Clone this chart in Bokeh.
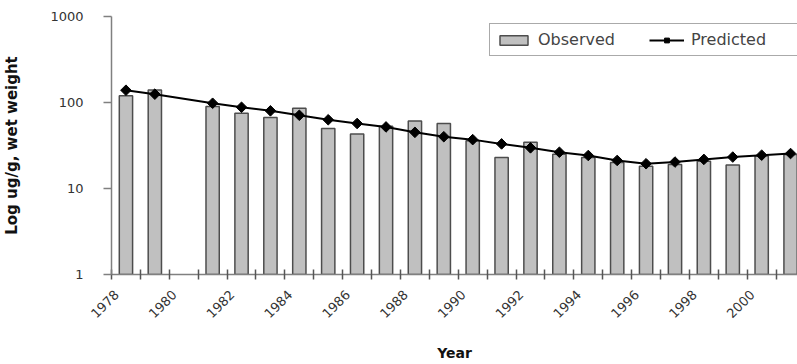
import math
from bokeh.plotting import figure
from bokeh.models import Range1d, FixedTicker, NumeralTickFormatter, Legend, LegendItem, ColumnDataSource
from bokeh.embed import file_html
from bokeh.resources import INLINE

# ---- data ----
years = list(range(1978, 2002))
observed = [120, 140, None, 90, 75, 67, 86, 50, 43, 53, 61, 57,
            36, 23, 34.5, 25, 23, 20, 18.2, 19, 20.8, 18.7, 23.8, 24.9]
predicted = [139, 125, None, 98, 88, 80, 71, 63, 57, 52, 45, 40,
             37, 33, 29.7, 26.4, 24.2, 21.2, 19.4, 20.3, 21.8, 23.2, 24.4, 25.5]
x_tick_years = list(range(1978, 2001, 2))
y_ticks = [1, 10, 100, 1000]

obs_src = ColumnDataSource(dict(
    x=[y for y, v in zip(years, observed) if v is not None],
    top=[v for v in observed if v is not None]))
pred_src = ColumnDataSource(dict(
    x=[y for y, v in zip(years, predicted) if v is not None],
    y=[v for v in predicted if v is not None]))

FONT = "DejaVu Sans"
GRAY = "#808080"

p = figure(width=797, height=364,
           x_range=Range1d(1977.5, 2001.24), y_range=Range1d(1, 1000),
           y_axis_type="log", output_backend="svg", toolbar_location=None,
           min_border_left=108, min_border_right=0, min_border_top=16, min_border_bottom=88)
p.outline_line_color = None
p.background_fill_color = "white"
p.border_fill_color = "white"

p.xgrid.visible = False
p.ygrid.ticker = FixedTicker(ticks=[y_ticks[-1]])
p.ygrid.grid_line_color = GRAY
p.ygrid.grid_line_width = 1.5

bars = p.vbar(x="x", top="top", bottom=1, width=0.46, source=obs_src,
              fill_color="#c0c0c0", line_color="#4d4d4d", line_width=1.5)
line = p.line(x="x", y="y", source=pred_src, line_color="black", line_width=2)
pts = p.scatter(x="x", y="y", source=pred_src, marker="square", angle=math.pi / 4,
                size=7.5, fill_color="black", line_color="black")

# y axis
yax = p.yaxis[0]
yax.ticker = FixedTicker(ticks=y_ticks, minor_ticks=[])
yax.formatter = NumeralTickFormatter(format="0")
yax.axis_line_color = GRAY
yax.axis_line_width = 1.5
yax.major_tick_line_color = GRAY
yax.major_tick_line_width = 1.5
yax.major_tick_in = 0
yax.major_tick_out = 8
yax.minor_tick_line_color = None
yax.major_label_standoff = 20
yax.major_label_text_font = FONT
yax.major_label_text_font_size = "13px"
yax.major_label_text_color = "#333333"
yax.axis_label = "Log ug/g, wet weight"
yax.axis_label_text_font = FONT
yax.axis_label_text_font_style = "bold"
yax.axis_label_text_font_size = "15px"
yax.axis_label_text_color = "#111111"
yax.axis_label_standoff = 26

# x axis: labels sit a little left of each category centre, ticks between categories
xax = p.xaxis[0]
xax.ticker = FixedTicker(ticks=[y - 0.32 for y in x_tick_years],
                         minor_ticks=[y - 0.5 for y in years] + [years[-1] + 0.5])
xax.formatter = NumeralTickFormatter(format="0")
xax.axis_line_color = GRAY
xax.axis_line_width = 1.5
xax.major_tick_line_color = None
xax.minor_tick_line_color = "#555555"
xax.minor_tick_line_width = 1.5
xax.minor_tick_in = 5
xax.minor_tick_out = 5
xax.major_label_orientation = math.pi / 4
xax.major_label_standoff = 12
xax.major_label_text_font = FONT
xax.major_label_text_font_size = "13px"
xax.major_label_text_color = "#333333"
xax.axis_label = "Year"
xax.axis_label_text_font = FONT
xax.axis_label_text_font_style = "bold"
xax.axis_label_text_font_size = "14px"
xax.axis_label_text_color = "#111111"
xax.axis_label_standoff = 20

legend = Legend(items=[LegendItem(label="Observed", renderers=[bars]),
                       LegendItem(label="Predicted", renderers=[line, pts])],
                orientation="horizontal", location=(378, 218))
legend.border_line_color = "#555555"
legend.border_line_width = 1.5
legend.background_fill_color = "white"
legend.label_text_font = FONT
legend.label_text_font_size = "16px"
legend.label_text_color = "#444444"
legend.glyph_width = 35
legend.glyph_height = 12
legend.label_width = 100
legend.label_standoff = 7
legend.spacing = 11
legend.padding = 6
legend.margin = 0
p.add_layout(legend)

open("out.html", "w").write(file_html(p, INLINE))
